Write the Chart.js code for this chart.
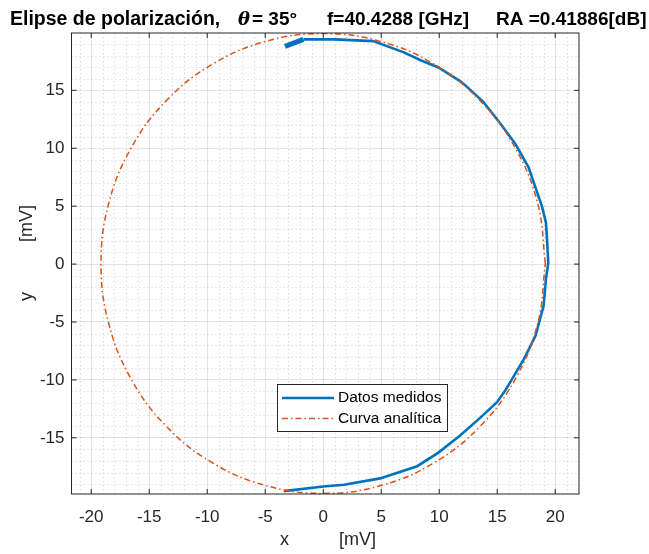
<!DOCTYPE html>
<html>
<head>
<meta charset="utf-8">
<script src="https://cdn.jsdelivr.net/npm/chart.js@4/dist/chart.umd.min.js"></script>
<style>
html, body { margin: 0; padding: 0; background: #fff; }
canvas { display: block; }
</style>
</head>
<body>
<canvas id="elipse" width="649" height="554"></canvas>
<script>
// Datos medidos [mV]
const medidoX = [-3.4, 0.0, 1.8, 4.9, 8.1, 9.9, 11.8, 13.5, 15.0, 15.7, 17.3, 18.3, 19.0, 19.2, 19.4, 19.3, 19.2, 18.85, 17.7, 16.55, 15.3, 13.8, 12.4, 11.8, 9.9, 8.4, 6.9, 4.3, 1.0, -1.7];
const medidoY = [-19.6, -19.2, -19.05, -18.5, -17.45, -16.3, -14.8, -13.3, -11.9, -10.9, -8.2, -6.2, -3.6, -1.3, 0.1, 2.0, 3.6, 5.0, 8.35, 10.4, 12.1, 14.0, 15.3, 15.8, 17.0, 17.6, 18.3, 19.25, 19.4, 19.4];

// extremo final (flecha)
const flechaX = [-1.7, -3.3];
const flechaY = [19.4, 18.8];

// Curva analítica [mV]
const analiticaX = [19.15, 18.5, 16.58, 13.54, 9.58, 4.96, 0, -4.96, -9.58, -13.54, -16.58, -18.5, -19.15, -18.5, -16.58, -13.54, -9.58, -4.96, 0, 4.96, 9.58, 13.54, 16.58, 18.5, 19.15];
const analiticaY = [0.05, 5.19, 9.98, 14.09, 17.24, 19.22, 19.9, 19.22, 17.24, 14.09, 9.98, 5.19, 0.05, -5.09, -9.88, -13.99, -17.14, -19.12, -19.8, -19.12, -17.14, -13.99, -9.88, -5.09, 0.05];

const xTicks = [-20, -15, -10, -5, 0, 5, 10, 15, 20];
const yTicks = [-15, -10, -5, 0, 5, 10, 15];
const xLimits = [-21.7, 22.05];
const yLimits = [-19.85, 19.95];

const colorMedido = '#0072BD';
const colorAnalitica = '#D95319';
const axisColor = '#262626';
const fontFamily = "'Liberation Sans', Arial, Helvetica, sans-serif";
const dashAnalitica = [6, 3, 1.5, 3];

const toPoints = (xs, ys) => xs.map((x, i) => ({ x, y: ys[i] }));

// ejes estilo MATLAB: rejilla menor, marcas, caja, leyenda y títulos
const matlabAxes = {
    id: 'matlabAxes',
    beforeDatasetsDraw(chart) {
        const { ctx, chartArea: a, scales: { x, y } } = chart;
        ctx.save();
        ctx.strokeStyle = 'rgba(38, 38, 38, 0.22)';
        ctx.lineWidth = 1;
        ctx.setLineDash([1, 3]);
        ctx.beginPath();
        for (let v = Math.ceil(x.min); v <= x.max; v++) {
            if (v % 5 === 0) continue;
            const px = Math.round(x.getPixelForValue(v)) + 0.5;
            ctx.moveTo(px, a.top);
            ctx.lineTo(px, a.bottom);
        }
        for (let v = Math.ceil(y.min); v <= y.max; v++) {
            if (v % 5 === 0) continue;
            const py = Math.round(y.getPixelForValue(v)) + 0.5;
            ctx.moveTo(a.left, py);
            ctx.lineTo(a.right, py);
        }
        ctx.stroke();
        ctx.restore();
    },
    afterDraw(chart) {
        const { ctx, chartArea: a, scales: { x, y } } = chart;
        ctx.save();

        // caja y marcas hacia dentro
        ctx.strokeStyle = axisColor;
        ctx.lineWidth = 1;
        ctx.setLineDash([]);
        ctx.strokeRect(a.left, a.top, a.right - a.left, a.bottom - a.top);
        ctx.beginPath();
        xTicks.forEach(v => {
            const px = x.getPixelForValue(v);
            ctx.moveTo(px, a.bottom); ctx.lineTo(px, a.bottom - 5);
            ctx.moveTo(px, a.top); ctx.lineTo(px, a.top + 5);
        });
        yTicks.forEach(v => {
            const py = y.getPixelForValue(v);
            ctx.moveTo(a.left, py); ctx.lineTo(a.left + 5, py);
            ctx.moveTo(a.right, py); ctx.lineTo(a.right - 5, py);
        });
        ctx.stroke();

        // leyenda
        const lg = { left: 277, top: 384, width: 170, height: 47 };
        ctx.fillStyle = '#fff';
        ctx.fillRect(lg.left, lg.top, lg.width, lg.height);
        ctx.strokeStyle = axisColor;
        ctx.strokeRect(lg.left + 0.5, lg.top + 0.5, lg.width, lg.height);
        const rows = [
            { label: 'Datos medidos', color: colorMedido, width: 2.5, dash: [] },
            { label: 'Curva analítica', color: colorAnalitica, width: 1.5, dash: dashAnalitica }
        ];
        ctx.font = '15.5px ' + fontFamily;
        ctx.textBaseline = 'middle';
        rows.forEach((r, i) => {
            const ry = lg.top + 14 + i * 20.5;
            ctx.strokeStyle = r.color;
            ctx.lineWidth = r.width;
            ctx.setLineDash(r.dash);
            ctx.beginPath();
            ctx.moveTo(lg.left + 5, ry);
            ctx.lineTo(lg.left + 57, ry);
            ctx.stroke();
            ctx.fillStyle = '#000';
            ctx.fillText(r.label, lg.left + 61, ry);
        });
        ctx.setLineDash([]);

        // títulos de ejes
        ctx.fillStyle = axisColor;
        ctx.font = '18px ' + fontFamily;
        ctx.textAlign = 'center';
        ctx.textBaseline = 'middle';
        ctx.fillText('x          [mV]', 328, 540);
        ctx.save();
        ctx.translate(27, 253);
        ctx.rotate(-Math.PI / 2);
        ctx.fillText('y          [mV]', 0, 0);
        ctx.restore();

        // título
        ctx.fillStyle = '#000';
        ctx.textAlign = 'left';
        ctx.textBaseline = 'alphabetic';
        const tituloY = 25;
        ctx.font = 'bold 19.5px ' + fontFamily;
        ctx.fillText('Elipse de polarización,', 10, tituloY);
        ctx.font = "italic bold 18px 'DejaVu Serif', serif";
        ctx.fillText('θ', 238, tituloY);
        ctx.font = 'bold 19px ' + fontFamily;
        ctx.fillText('= 35°', 252, tituloY);
        ctx.fillText('f=40.4288 [GHz]', 327, tituloY);
        ctx.fillText('RA =0.41886[dB]', 496, tituloY);

        ctx.restore();
    }
};

new Chart(document.getElementById('elipse'), {
    type: 'scatter',
    data: {
        datasets: [
            {
                label: 'Datos medidos',
                data: toPoints(medidoX, medidoY),
                showLine: true,
                borderColor: colorMedido,
                borderWidth: 2.6,
                pointRadius: 0,
                tension: 0,
                order: 2
            },
            {
                label: 'flecha',
                data: toPoints(flechaX, flechaY),
                showLine: true,
                borderColor: colorMedido,
                borderWidth: 5,
                borderCapStyle: 'butt',
                pointRadius: 0,
                order: 2
            },
            {
                label: 'Curva analítica',
                data: toPoints(analiticaX, analiticaY),
                showLine: true,
                borderColor: colorAnalitica,
                borderWidth: 1.5,
                borderDash: dashAnalitica,
                pointRadius: 0,
                tension: 0.4,
                order: 1
            }
        ]
    },
    options: {
        responsive: false,
        animation: false,
        devicePixelRatio: 1,
        events: [],
        layout: { padding: { top: 33, right: 70, left: 0, bottom: 0 } },
        plugins: {
            legend: { display: false },
            tooltip: { enabled: false },
            title: { display: false }
        },
        scales: {
            x: {
                type: 'linear',
                min: xLimits[0],
                max: xLimits[1],
                afterBuildTicks: scale => { scale.ticks = xTicks.map(v => ({ value: v })); },
                afterFit: scale => { scale.height = 60; },
                grid: { color: 'rgba(38, 38, 38, 0.13)', drawTicks: false },
                border: { display: false },
                ticks: {
                    color: axisColor,
                    padding: 13,
                    maxRotation: 0,
                    font: { family: fontFamily, size: 17 }
                }
            },
            y: {
                type: 'linear',
                min: yLimits[0],
                max: yLimits[1],
                afterBuildTicks: scale => { scale.ticks = yTicks.map(v => ({ value: v })); },
                afterFit: scale => { scale.width = 71.5; },
                grid: { color: 'rgba(38, 38, 38, 0.13)', drawTicks: false },
                border: { display: false },
                ticks: {
                    color: axisColor,
                    padding: 7,
                    font: { family: fontFamily, size: 17 }
                }
            }
        }
    },
    plugins: [matlabAxes]
});
</script>
</body>
</html>
